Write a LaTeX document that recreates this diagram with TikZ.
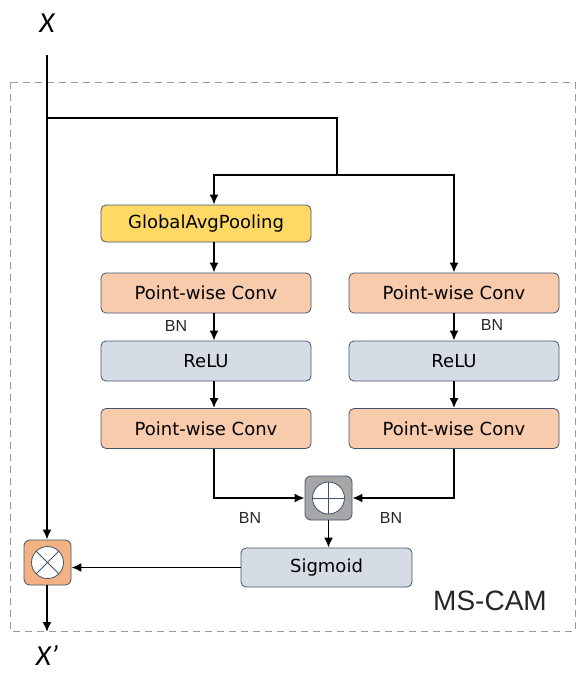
\documentclass[tikz,border=0pt]{standalone}
\usepackage{fontspec}
\setmainfont{DejaVu Sans}
\newfontfamily\labelfont{Carlito}
\newfontfamily\camfont{Liberation Sans}
\usetikzlibrary{arrows.meta,positioning}
\definecolor{poolyellow}{HTML}{FFD966}
\definecolor{convpeach}{HTML}{F8CBAD}
\definecolor{relugray}{HTML}{D6DCE5}
\definecolor{edgeblue}{HTML}{44546A}
\definecolor{addgray}{HTML}{A6A6A6}
\definecolor{mulorange}{HTML}{F4B183}
\tikzset{
  block/.style={draw=edgeblue, line width=0.8pt, rounded corners=5pt,
    minimum width=210pt, minimum height=40pt, inner sep=0pt,
    font=\fontsize{18}{20}\selectfont},
  opbox/.style={draw=edgeblue, line width=0.8pt, rounded corners=6pt,
    minimum width=47pt, minimum height=45pt, inner sep=0pt},
  arr/.style={line width=1.8pt, -{Latex[length=10pt,width=9pt]}},
  wire/.style={line width=1.8pt},
  bnlabel/.style={font=\camfont\fontsize{16}{18}\selectfont, text=black!85},
  xlabel/.style={font=\labelfont\itshape\fontsize{29}{31}\selectfont, inner sep=0pt},
}
\begin{document}
\begin{tikzpicture}[x=1pt,y=-1pt]
  \useasboundingbox (0,0) rectangle (577,674);

  % frame of the module
  \draw[gray!80, line width=0.8pt, dash pattern=on 7pt off 5pt] (10,82) rectangle (575,631);
  \node[font=\camfont\fontsize{28}{30}\selectfont, text=black!85] (cam) at (490,601) {MS-CAM};

  % input and output
  \node[xlabel] (xin) at (47,23) {X};
  \node[xlabel] (xout) at (47,655) {X’};
  \coordinate (xtop) at (47,55);
  \coordinate (xbot) at (47,632);
  \coordinate (split) at (337,175);

  % left branch
  \node[block, fill=poolyellow, minimum height=37pt] (gap) at (206,223.5) {GlobalAvgPooling};
  \node[block, fill=convpeach] (pwa) at (206,293) {Point-wise Conv};
  \node[block, fill=relugray] (relua) at (206,361) {ReLU};
  \node[block, fill=convpeach] (pwb) at (206,428.5) {Point-wise Conv};

  % right branch
  \node[block, fill=convpeach] (pwc) at (454,293) {Point-wise Conv};
  \node[block, fill=relugray] (relub) at (454,361) {ReLU};
  \node[block, fill=convpeach] (pwd) at (454,428.5) {Point-wise Conv};

  % fusion
  \node[opbox, fill=addgray, minimum height=44pt] (add) at (328.5,498) {};
  \draw[edgeblue, line width=0.8pt, fill=white] (add) circle (16pt);
  \draw[edgeblue, line width=0.8pt] ([yshift=-16pt]add.center) -- ([yshift=16pt]add.center)
    ([xshift=-16pt]add.center) -- ([xshift=16pt]add.center);
  \node[block, fill=relugray, minimum width=171pt, minimum height=39pt] (sig) at (326.5,567.5) {Sigmoid};
  \node[opbox, fill=mulorange] (mul) at (47.5,562.5) {};
  \draw[edgeblue, line width=0.8pt, fill=white] (mul) circle (16pt);
  \draw[edgeblue, line width=0.8pt] ([shift={(-45:16pt)}]mul.center) -- ([shift={(135:16pt)}]mul.center)
    ([shift={(45:16pt)}]mul.center) -- ([shift={(-135:16pt)}]mul.center);

  % connectors
  \draw[arr] (xtop) -- (xtop |- mul.north);
  \draw[wire] (47,118) -- (split |- 0,118) -- (split);
  \draw[arr] (split) -| ([xshift=8pt]gap.north);
  \draw[arr] (split) -| (pwc.north);
  \draw[arr] ([xshift=8pt]gap.south) -- ([xshift=8pt]pwa.north);
  \draw[arr] ([xshift=8pt]pwa.south) -- ([xshift=8pt]relua.north);
  \draw[arr] ([xshift=8pt]relua.south) -- ([xshift=8pt]pwb.north);
  \draw[arr] (pwc.south) -- (relub.north);
  \draw[arr] (relub.south) -- (pwd.north);
  \draw[arr] ([xshift=8pt]pwb.south) |- (add.west);
  \draw[arr] (pwd.south) |- (add.east);
  \draw[arr] (add.south) -- (add.south |- sig.north);
  \draw[arr] (sig.west) -- (sig.west -| mul.east);
  \draw[arr] (xtop |- mul.south) -- (xbot);

  % BN labels
  \node[bnlabel] (bna) at (176,326) {BN};
  \node[bnlabel] (bnb) at (492,325) {BN};
  \node[bnlabel] (bnc) at (250,518) {BN};
  \node[bnlabel] (bnd) at (391,518) {BN};
\end{tikzpicture}
\end{document}
